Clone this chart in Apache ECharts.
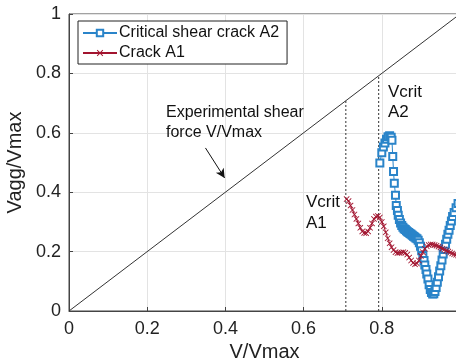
<!DOCTYPE html>
<html>
<head>
<meta charset="utf-8">
<script src="https://cdn.jsdelivr.net/npm/echarts@6/dist/echarts.min.js"></script>
<style>html,body{margin:0;padding:0;background:#fff}#c{width:456px;height:364px}</style>
</head>
<body>
<div id="c"></div>
<script>
// ---- data ----
const seriesNames = ['Critical shear crack A2', 'Crack A1'];
const xTicks = [0, 0.2, 0.4, 0.6, 0.8, 1];
const yTicks = [0, 0.2, 0.4, 0.6, 0.8, 1];

const a2X = [0.795,0.800,0.804,0.808,0.812,0.816,0.820,0.824,0.826,0.828,0.830,0.832,0.835,0.837,0.840,0.842,0.845,0.848,0.851,0.854,0.857,0.860,0.863,0.866,0.869,0.872,0.875,0.878,0.881,0.884,0.887,0.890,0.893,0.896,0.899,0.902,0.905,0.908,0.910,0.913,0.915,0.918,0.921,0.924,0.927,0.930,0.933,0.936,0.939,0.942,0.945,0.948,0.951,0.954,0.957,0.960,0.963,0.966,0.969,0.972,0.975,0.978,0.981,0.985,0.990,0.995];
const a2Y = [0.498,0.533,0.552,0.566,0.578,0.587,0.590,0.585,0.575,0.520,0.470,0.430,0.390,0.355,0.338,0.322,0.308,0.296,0.288,0.282,0.277,0.274,0.270,0.267,0.264,0.261,0.258,0.255,0.252,0.249,0.246,0.243,0.238,0.230,0.218,0.203,0.187,0.170,0.155,0.140,0.125,0.108,0.088,0.072,0.062,0.057,0.058,0.066,0.079,0.097,0.115,0.135,0.152,0.172,0.192,0.207,0.225,0.242,0.258,0.272,0.288,0.303,0.318,0.332,0.348,0.362];

const a1X = [0.710,0.715,0.720,0.725,0.730,0.735,0.740,0.745,0.750,0.755,0.760,0.765,0.770,0.775,0.780,0.785,0.790,0.795,0.800,0.805,0.810,0.815,0.820,0.825,0.830,0.835,0.840,0.845,0.850,0.855,0.860,0.865,0.870,0.875,0.880,0.885,0.890,0.895,0.900,0.905,0.910,0.915,0.920,0.925,0.930,0.935,0.940,0.945,0.950,0.955,0.960,0.965,0.970,0.975,0.980,0.985,0.990,0.995,1.000];
const a1Y = [0.377,0.370,0.355,0.340,0.325,0.310,0.295,0.280,0.268,0.263,0.262,0.268,0.280,0.295,0.310,0.318,0.320,0.315,0.300,0.285,0.265,0.245,0.228,0.215,0.205,0.198,0.195,0.196,0.197,0.198,0.196,0.190,0.180,0.170,0.162,0.157,0.160,0.170,0.185,0.198,0.210,0.218,0.222,0.224,0.224,0.222,0.220,0.217,0.214,0.210,0.207,0.203,0.200,0.197,0.194,0.191,0.189,0.187,0.186];

const diagX = [0, 1];
const diagY = [0, 1];
const vcritA1 = 0.708;
const vcritA2 = 0.792;
const arrowFrom = [0.349, 0.549];
const arrowTo = [0.398, 0.448];

// ---- chart ----
const FONT = "'Liberation Sans', Arial, sans-serif";
const zip = (xs, ys) => xs.map((x, i) => [x, ys[i]]);
const crossPath = 'path://M0,1L1,0L5,4L9,0L10,1L6,5L10,9L9,10L5,6L1,10L0,9L4,5Z';
const BLUE = '#2a84c9';
const RED = '#a2142f';

const chart = echarts.init(document.getElementById('c'), null, {renderer: 'canvas'});
chart.setOption({
  animation: false,
  backgroundColor: '#fff',
  grid: {left: 69, right: -4, top: 14, bottom: 53, containLabel: false, outerBoundsMode: 'none', show: true, borderColor: '#444', borderWidth: 1, backgroundColor: 'transparent'},
  legend: {
    data: seriesNames,
    orient: 'vertical',
    left: 78, top: 21,
    padding: [4, 8, 3, 4],
    itemWidth: 34, itemHeight: 8, itemGap: 4,
    backgroundColor: '#fff',
    borderColor: '#222', borderWidth: 1, borderRadius: 0,
    textStyle: {fontFamily: FONT, fontSize: 16, color: '#111', padding: [0, 0, 0, -3]}
  },
  xAxis: {
    type: 'value', min: xTicks[0], max: xTicks[xTicks.length - 1], interval: 0.2,
    name: 'V/Vmax', nameLocation: 'middle', nameGap: 28,
    nameTextStyle: {fontFamily: FONT, fontSize: 20, color: '#222'},
    axisLine: {show: true, lineStyle: {color: '#444', width: 1}},
    axisTick: {show: true, inside: true, length: 4, lineStyle: {color: '#444'}},
    axisLabel: {fontFamily: FONT, fontSize: 18, color: '#222', margin: 9, formatter: v => String(+v.toFixed(1))},
    splitLine: {show: true, lineStyle: {color: '#e3e3e3', width: 1}}
  },
  yAxis: {
    type: 'value', min: yTicks[0], max: yTicks[yTicks.length - 1], interval: 0.2,
    name: 'Vagg/Vmax', nameLocation: 'middle', nameGap: 33,
    nameTextStyle: {fontFamily: FONT, fontSize: 20, color: '#222'},
    axisLine: {show: true, lineStyle: {color: '#444', width: 1}},
    axisTick: {show: true, inside: true, length: 4, lineStyle: {color: '#444'}},
    axisLabel: {fontFamily: FONT, fontSize: 18, color: '#222', margin: 8, formatter: v => String(+v.toFixed(1))},
    splitLine: {show: true, lineStyle: {color: '#e3e3e3', width: 1}}
  },
  graphic: [
    {type: 'text', left: 166, top: 103, z: 50, style: {text: 'Experimental shear\nforce V/Vmax', font: '16px ' + FONT, fill: '#111', lineHeight: 20}},
    {type: 'text', left: 388, top: 82, z: 50, style: {text: 'Vcrit\nA2', font: '17px ' + FONT, fill: '#111', lineHeight: 20}},
    {type: 'text', left: 306, top: 192, z: 50, style: {text: 'Vcrit\nA1', font: '17px ' + FONT, fill: '#111', lineHeight: 21}}
  ],
  series: [
    {
      name: 'diag', type: 'line', data: zip(diagX, diagY), symbol: 'none', silent: true,
      lineStyle: {color: '#333', width: 1}, z: 1,
      markLine: {
        silent: true, symbol: ['none', 'arrow'], symbolSize: [7, 9],
        label: {show: false},
        lineStyle: {color: '#111', width: 1, type: 'solid'},
        data: [[{coord: arrowFrom}, {coord: arrowTo}]]
      }
    },
    {
      name: 'vA1', type: 'line', data: [[vcritA1, 0], [vcritA1, vcritA1]], symbol: 'none', silent: true,
      lineStyle: {color: '#333', width: 1, type: [2, 2]}, z: 1
    },
    {
      name: 'vA2', type: 'line', data: [[vcritA2, 0], [vcritA2, vcritA2]], symbol: 'none', silent: true,
      lineStyle: {color: '#333', width: 1, type: [2, 2]}, z: 1
    },
    {
      name: seriesNames[0], type: 'line', data: zip(a2X, a2Y),
      symbol: 'emptyRect', symbolSize: 7, showAllSymbol: true,
      itemStyle: {color: BLUE, borderColor: BLUE, borderWidth: 1},
      lineStyle: {color: BLUE, width: 1}, z: 3
    },
    {
      name: seriesNames[1], type: 'line', data: zip(a1X, a1Y),
      symbol: crossPath, symbolSize: 6, showAllSymbol: true,
      itemStyle: {color: RED},
      lineStyle: {color: RED, width: 1}, z: 4
    }
  ]
});
</script>
</body>
</html>
